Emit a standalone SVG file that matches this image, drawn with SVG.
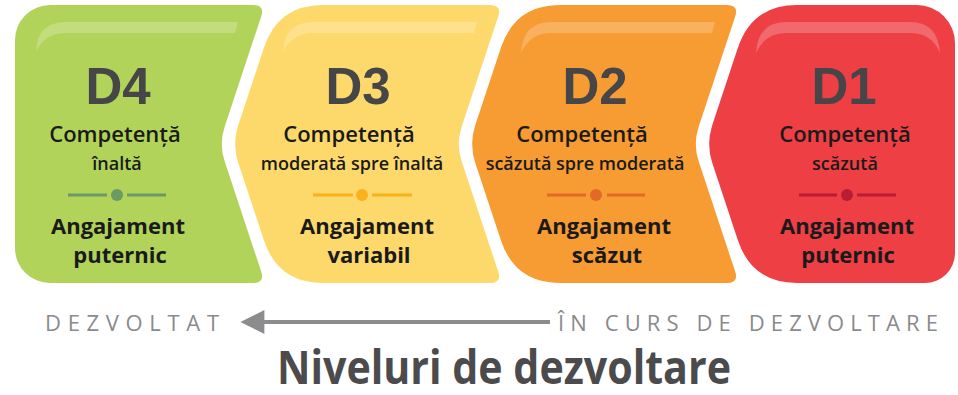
<svg xmlns="http://www.w3.org/2000/svg" width="958" height="395" viewBox="0 0 958 395">
<style>
.hl{fill:#ffffff;fill-opacity:0.22}
.dl{font-family:"Liberation Sans",Arial,sans-serif;font-weight:700;font-size:51px;fill:#464648;text-anchor:middle}
.c1{font-family:"Open Sans","Noto Sans",sans-serif;font-weight:600;font-size:22px;fill:#1a1a1a;text-anchor:middle}
.c2{font-family:"Open Sans","Noto Sans",sans-serif;font-weight:600;font-size:18px;fill:#1a1a1a;text-anchor:middle}
.a{font-family:"Open Sans","Noto Sans",sans-serif;font-weight:700;font-size:22px;fill:#1a1a1a;text-anchor:middle}
.ax{font-family:"Open Sans","Noto Sans",sans-serif;font-size:22px;fill:#8a8a8c}
.ttl{font-family:"Open Sans","Noto Sans",sans-serif;font-weight:700;font-size:47px;fill:#4b4b4d}
.dv{stroke-width:3;fill:none}
</style>
<defs>
<marker id="ah" viewBox="0 0 10 10" refX="1" refY="5" markerWidth="7" markerHeight="6" markerUnits="strokeWidth" orient="auto-start-reverse">
<path d="M0,0 L10,5 L0,10 Z" fill="#8c8c8e"/>
</marker>
</defs>

<g id="d4">
<path d="M15,40 A35,35 0 0 1 50,5 L253,5 Q265,5 261.2,16.4 L224.6,126.9 Q219,144 224.6,161.1 L261.2,271.6 Q265,283 253,283 L50,283 A35,35 0 0 1 15,248 Z" fill="#b1d35a"/>
<path class="hl" d="M36,52 Q37,22 66,22 L238,22 L235,33 L66,33 Q44,33 36,52 Z"/>
<text class="dl" x="118" y="104">D4</text>
<text class="c1" x="115" y="142">Competență</text>
<text class="c2" x="117" y="170">înaltă</text>
<g stroke="#6b9a63" class="dv"><line x1="68" y1="195" x2="107" y2="195"/><line x1="127" y1="195" x2="166" y2="195"/></g>
<circle cx="117" cy="195" r="6" fill="#6b9a63"/>
<text class="a" x="118" y="234">Angajament</text>
<text class="a" x="120" y="263">puternic</text>
</g>

<g id="d3">
<path d="M323,5 L490,5 Q502,5 498.2,16.4 L461.6,126.9 Q456,144 461.6,161.1 L498.2,271.6 Q502,283 490,283 L323,283 Q278,283 263.9,240.2 L238.3,163 Q232,144 238.3,125 L263.9,47.8 Q278,5 323,5 Z" fill="#fdd96c"/>
<path class="hl" d="M283,52 Q285,22 313,22 L477,22 L474,33 L313,33 Q292,33 283,52 Z"/>
<text class="dl" x="358" y="104">D3</text>
<text class="c1" x="349" y="142">Competență</text>
<text class="c2" x="352" y="170">moderată spre înaltă</text>
<g stroke="#f9b21b" class="dv"><line x1="313" y1="195" x2="353" y2="195"/><line x1="372" y1="195" x2="412" y2="195"/></g>
<circle cx="362" cy="195" r="6" fill="#f9b21b"/>
<text class="a" x="367" y="234">Angajament</text>
<text class="a" x="369" y="263">variabil</text>
</g>

<g id="d2">
<path d="M560,5 L727,5 Q739,5 735.2,16.4 L698.6,126.9 Q693,144 698.6,161.1 L735.2,271.6 Q739,283 727,283 L560,283 Q515,283 500.9,240.2 L475.3,163 Q469,144 475.3,125 L500.9,47.8 Q515,5 560,5 Z" fill="#f79b33"/>
<path class="hl" d="M521,53 Q523,22 551,22 L715,22 L712,33 L551,33 Q530,33 521,53 Z"/>
<text class="dl" x="595" y="104">D2</text>
<text class="c1" x="582" y="142">Competență</text>
<text class="c2" x="585" y="170">scăzută spre moderată</text>
<g stroke="#e2692a" class="dv"><line x1="547" y1="195" x2="586" y2="195"/><line x1="607" y1="195" x2="645" y2="195"/></g>
<circle cx="596" cy="195" r="6" fill="#e2692a"/>
<text class="a" x="604" y="234">Angajament</text>
<text class="a" x="607" y="263">scăzut</text>
</g>

<g id="d1">
<path d="M797,5 L917,5 A38,38 0 0 1 955,43 L955,253 A30,30 0 0 1 925,283 L797,283 Q752,283 737.9,240.2 L712.3,163 Q706,144 712.3,125 L737.9,47.8 Q752,5 797,5 Z" fill="#ee3f45"/>
<path class="hl" d="M756,53 Q758,22 786,22 L910,22 Q938,22 940,53 Q932,33 910,33 L786,33 Q765,33 756,53 Z"/>
<text class="dl" x="844" y="104">D1</text>
<text class="c1" x="845" y="142">Competență</text>
<text class="c2" x="845" y="170">scăzută</text>
<g stroke="#b81d36" class="dv"><line x1="799" y1="195" x2="837" y2="195"/><line x1="857" y1="195" x2="896" y2="195"/></g>
<circle cx="847" cy="195" r="6" fill="#b81d36"/>
<text class="a" x="847" y="234">Angajament</text>
<text class="a" x="848" y="263">puternic</text>
</g>

<g id="connectors">
<line x1="550" y1="322" x2="262" y2="322" stroke="#8c8c8e" stroke-width="4" marker-end="url(#ah)"/>
</g>

<g id="axis-labels">
<text class="ax" x="45" y="331" textLength="174" lengthAdjust="spacing">DEZVOLTAT</text>
<text class="ax" x="558" y="331" textLength="380" lengthAdjust="spacing">ÎN CURS DE DEZVOLTARE</text>
</g>
<text class="ttl" x="277" y="384" textLength="454" lengthAdjust="spacingAndGlyphs">Niveluri de dezvoltare</text>
</svg>
